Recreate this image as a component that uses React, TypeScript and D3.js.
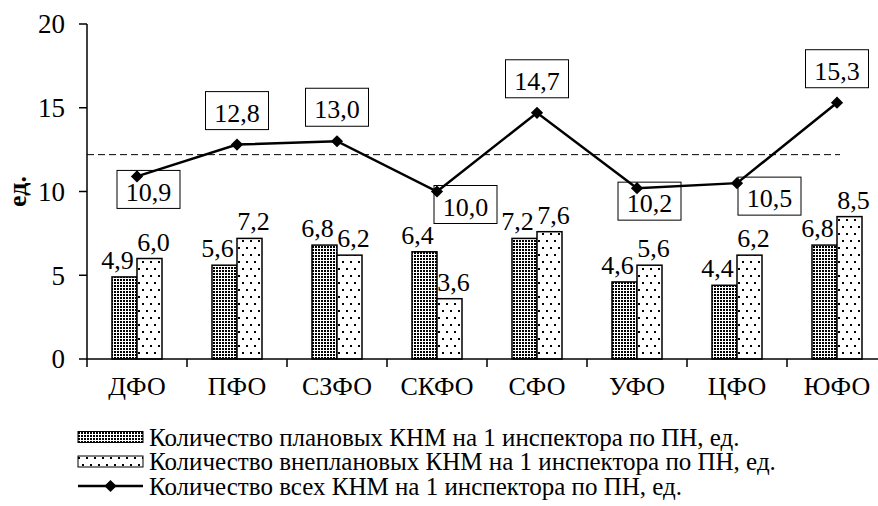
import React from "react";
import * as d3 from "d3";

const categories = ["ДФО", "ПФО", "СЗФО", "СКФО", "СФО", "УФО", "ЦФО", "ЮФО"];
const planned = [4.9, 5.6, 6.8, 6.4, 7.2, 4.6, 4.4, 6.8];
const unplanned = [6.0, 7.2, 6.2, 3.6, 7.6, 5.6, 6.2, 8.5];
const total = [10.9, 12.8, 13.0, 10.0, 14.7, 10.2, 10.5, 15.3];
const averageTotal = 12.2;
const totalLabelSide = ["below", "above", "above", "below", "above", "below", "below", "above"];
const yTicks = [0, 5, 10, 15, 20];
const legendLabels = [
  "Количество плановых КНМ на 1 инспектора по ПН, ед.",
  "Количество внеплановых КНМ на 1 инспектора по ПН, ед.",
  "Количество всех КНМ на 1 инспектора по ПН, ед.",
];
const yTitle = "ед.";

// layout only: horizontal shift of each "below" label box's left edge from its point
const belowBoxShift = [-20, 0, 0, -3, 0, -19, 1, 0];

const W = 878;
const H = 506;
const FONT = "Liberation Serif";
const fmt = (v: number) => v.toFixed(1).replace(".", ",");

export default function App() {
  const x = d3.scaleBand<string>().domain(categories).range([87, 887]).padding(0);
  const inner = d3.scaleBand<string>().domain(["p", "u"]).range([25, 75]).padding(0);
  const y = d3.scaleLinear().domain([0, 20]).range([359, 24]);
  const cx = (c: string) => (x(c) as number) + x.bandwidth() / 2;

  const line = d3
    .line<number>()
    .x((_, i) => cx(categories[i]))
    .y((d) => y(d));

  const diamond = d3.symbol().type(d3.symbolDiamond2).size(95)();
  const boxW = 63;
  const boxH = 38;
  const ts = { fontFamily: FONT };

  return (
    <svg width={W} height={H} fontFamily={FONT} style={{ display: "block", position: "absolute", left: 0, top: 0 }}>
      <defs>
        <pattern id="dense" patternUnits="userSpaceOnUse" width={3} height={3}>
          <rect width={3} height={3} fill="#fff" />
          <rect width={2} height={2} fill="#000" />
        </pattern>
        <pattern id="sparse" patternUnits="userSpaceOnUse" width={8} height={14}>
          <rect width={8} height={14} fill="#fff" />
          <rect x={2} y={2} width={2} height={2} fill="#000" />
          <rect x={6} y={9} width={2} height={2} fill="#000" />
        </pattern>
      </defs>
      <rect width={W} height={H} fill="#fff" />

      {/* y axis */}
      <line x1={87} x2={87} y1={y(20)} y2={y(0)} stroke="#000" strokeWidth={1.5} />
      {yTicks.map((t) => (
        <g key={t}>
          <line x1={79} x2={87} y1={y(t)} y2={y(t)} stroke="#000" strokeWidth={1.5} />
          <text x={65} y={y(t)} dy="0.35em" textAnchor="end" style={ts} fontSize={27}>
            {t}
          </text>
        </g>
      ))}
      <text
        transform={`translate(26, ${y(10)}) rotate(-90)`}
        textAnchor="middle"
        style={ts}
        fontSize={26}
        fontWeight="bold"
      >
        {yTitle}
      </text>

      {/* bars */}
      {categories.map((c, i) => {
        const x0 = x(c) as number;
        return (
          <g key={c}>
            <rect
              x={x0 + (inner("p") as number)}
              y={y(planned[i])}
              width={inner.bandwidth()}
              height={y(0) - y(planned[i])}
              fill="url(#dense)"
              stroke="#000"
              strokeWidth={1.5}
            />
            <rect
              x={x0 + (inner("u") as number)}
              y={y(unplanned[i])}
              width={inner.bandwidth()}
              height={y(0) - y(unplanned[i])}
              fill="url(#sparse)"
              stroke="#000"
              strokeWidth={1.5}
            />
            <text
              x={x0 + (inner("p") as number) + inner.bandwidth() / 2 - 7}
              y={y(planned[i]) - 8}
              textAnchor="middle"
              style={ts}
              fontSize={26}
            >
              {fmt(planned[i])}
            </text>
            <text
              x={x0 + (inner("u") as number) + inner.bandwidth() / 2 + 4}
              y={y(unplanned[i]) - 8}
              textAnchor="middle"
              style={ts}
              fontSize={26}
            >
              {fmt(unplanned[i])}
            </text>
          </g>
        );
      })}

      {/* x axis */}
      <line x1={87} x2={W} y1={y(0)} y2={y(0)} stroke="#000" strokeWidth={1.5} />
      {categories.map((c) => (
        <g key={c}>
          <line x1={x(c) as number} x2={x(c) as number} y1={y(0)} y2={y(0) + 8} stroke="#000" strokeWidth={1.5} />
          <text x={cx(c)} y={395} textAnchor="middle" style={ts} fontSize={26}>
            {c}
          </text>
        </g>
      ))}

      {/* average dashed line */}
      <line
        x1={87}
        x2={840}
        y1={y(averageTotal)}
        y2={y(averageTotal)}
        stroke="#000"
        strokeWidth={1}
        strokeDasharray="7,4"
      />

      {/* total label boxes (under the line and markers) */}
      {total.map((v, i) => {
        const px = cx(categories[i]);
        const py = y(v);
        const above = totalLabelSide[i] === "above";
        const bx = above ? px - boxW / 2 : px + belowBoxShift[i];
        const by = above ? py - 15 - boxH : py - 6;
        return (
          <g key={"b" + i}>
            <rect x={bx} y={by} width={boxW} height={boxH} fill="#fff" stroke="#000" strokeWidth={1} />
            <text x={bx + boxW / 2} y={by + boxH / 2 + 2} dy="0.35em" textAnchor="middle" style={ts} fontSize={26}>
              {fmt(v)}
            </text>
          </g>
        );
      })}

      {/* total line */}
      <path d={line(total) || ""} fill="none" stroke="#000" strokeWidth={2.5} />
      {total.map((v, i) => (
        <path key={i} d={diamond || ""} transform={`translate(${cx(categories[i])},${y(v)})`} fill="#000" />
      ))}

      {/* legend */}
      {legendLabels.map((l, i) => {
        const ly = 437 + i * 24.5;
        return (
          <g key={l}>
            {i === 0 && <rect x={78} y={ly - 5.5} width={65} height={11} fill="url(#dense)" stroke="#000" strokeWidth={1} />}
            {i === 1 && <rect x={78} y={ly - 5.5} width={65} height={11} fill="url(#sparse)" stroke="#000" strokeWidth={1} />}
            {i === 2 && (
              <g>
                <line x1={78} x2={143} y1={ly} y2={ly} stroke="#000" strokeWidth={2.5} />
                <path d={diamond || ""} transform={`translate(110.5,${ly})`} fill="#000" />
              </g>
            )}
            <text x={149} y={ly} dy="0.35em" style={ts} fontSize={25}>
              {l}
            </text>
          </g>
        );
      })}
    </svg>
  );
}
